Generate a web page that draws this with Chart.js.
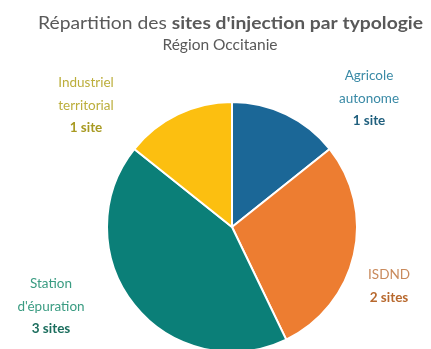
<!DOCTYPE html>
<html>
<head>
<meta charset="utf-8">
<script src="https://cdn.jsdelivr.net/npm/chart.js@4"></script>
<style>
  html, body { margin: 0; padding: 0; background: #fff; overflow: hidden; }
  #wrap { width: 431px; height: 349px; overflow: hidden; }
</style>
</head>
<body>
<div id="wrap"><canvas id="pie" width="431" height="362"></canvas></div>
<script>
// Sites d'injection par typologie, Occitanie
const categories = ['Agricole autonome', 'ISDND', "Station d'épuration", 'Industriel territorial'];
const siteCounts = [1, 2, 3, 1];
const sliceColors = ['#1b6797', '#ed7d31', '#0b7f78', '#fcbf10'];

// label text lines and where each block sits
const labelLines = [
  ['Agricole', 'autonome'],
  ['ISDND'],
  ['Station', "d'épuration"],
  ['Industriel', 'territorial']
];
const labelColors = [
  ['#3a8aa6', '#1f5f7d'],
  ['#c98a5c', '#b8692e'],
  ['#3a9c82', '#1c6e5e'],
  ['#bcae3c', '#a89a22']
];
const labelAnchors = [[369, 76], [389, 275], [51, 284], [86, 83]];

const FONT = 'Lato, "Open Sans", sans-serif';

const titlePlugin = {
  id: 'mixedTitle',
  afterDraw(chart) {
    const ctx = chart.ctx;
    ctx.save();
    ctx.fillStyle = '#595959';
    ctx.textBaseline = 'alphabetic';
    const partA = 'Répartition des ';
    const partB = "sites d'injection par typologie";
    // first line: regular + bold run, squeezed/stretched to span 38..423
    ctx.font = '17px ' + FONT;
    const wA = ctx.measureText(partA).width;
    ctx.font = 'bold 17px ' + FONT;
    const wB = ctx.measureText(partB).width;
    const sx = 385 / (wA + wB);
    ctx.save();
    ctx.translate(38, 29);
    ctx.scale(sx, 1);
    ctx.textAlign = 'left';
    ctx.font = '17px ' + FONT;
    ctx.fillText(partA, 0, 0);
    ctx.font = 'bold 17px ' + FONT;
    ctx.fillText(partB, wA, 0);
    ctx.restore();
    ctx.font = '15.5px ' + FONT;
    ctx.textAlign = 'center';
    ctx.fillText('Région Occitanie', 220, 50);
    ctx.restore();
  }
};

const labelPlugin = {
  id: 'sliceLabels',
  afterDraw(chart) {
    const ctx = chart.ctx;
    const values = chart.data.datasets[0].data;
    ctx.save();
    ctx.textAlign = 'center';
    ctx.textBaseline = 'middle';
    values.forEach((v, i) => {
      const [x, y] = labelAnchors[i];
      const lines = labelLines[i];
      ctx.font = '13.5px ' + FONT;
      ctx.fillStyle = labelColors[i][0];
      lines.forEach((t, k) => ctx.fillText(t, x, y + k * 22.5));
      ctx.font = 'bold 13.5px ' + FONT;
      ctx.fillStyle = labelColors[i][1];
      ctx.fillText(v + (v > 1 ? ' sites' : ' site'), x, y + lines.length * 22.5);
    });
    ctx.restore();
  }
};

new Chart(document.getElementById('pie').getContext('2d'), {
  type: 'pie',
  data: {
    labels: categories,
    datasets: [{
      data: siteCounts,
      backgroundColor: sliceColors,
      borderColor: '#ffffff',
      borderWidth: 2
    }]
  },
  options: {
    responsive: false,
    animation: false,
    layout: { padding: { top: 101, bottom: 9, left: 106, right: 73 } },
    plugins: {
      legend: { display: false },
      tooltip: { enabled: false },
      title: { display: false }
    }
  },
  plugins: [titlePlugin, labelPlugin]
});
</script>
</body>
</html>
